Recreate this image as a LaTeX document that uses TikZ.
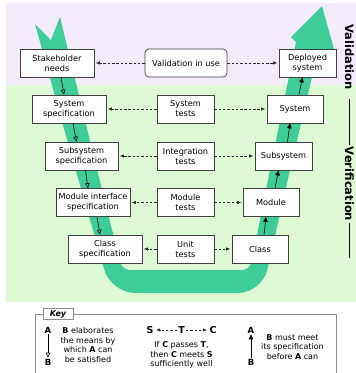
\documentclass[tikz,border=0pt]{standalone}
\usepackage{fontspec}
\setmainfont{DejaVu Sans}
\usetikzlibrary{arrows.meta}
\definecolor{lilac}{RGB}{243,234,250}
\definecolor{mint}{RGB}{222,250,212}
\definecolor{vband}{RGB}{62,204,152}

\begin{document}
\begin{tikzpicture}[x=1pt, y=-1pt,
	box/.style={draw=black!75, line width=0.7pt, fill=white, align=center, inner sep=1pt, minimum height=28pt, font=\fontsize{8.2}{10}\selectfont},
	test/.style={draw=black!85, line width=0.6pt, dash pattern=on 2.5pt off 1.8pt, -{Latex[length=4pt,width=3.5pt]}, shorten >=1.5pt},
	elab/.style={draw=black, line width=0.6pt, -{Triangle[open,length=5pt,width=4.5pt]}},
	meet/.style={draw=black, line width=0.6pt, -{Triangle[length=5pt,width=4.5pt]}},
	keytext/.style={align=center, inner sep=0pt, font=\fontsize{8}{9.5}\selectfont},
	keyletter/.style={inner sep=1pt, font=\bfseries\fontsize{8.5}{9}\selectfont},
	side/.style={rotate=-90, inner sep=2pt, font=\bfseries\fontsize{11.5}{12}\selectfont}]

	\useasboundingbox (0,0) rectangle (356,373);

	%background
	\fill[lilac] (6,3) rectangle (356,85);
	\fill[mint] (6,85) rectangle (356,302);

	%v shape
	\fill[vband] (35,24) -- (51,40) -- (60,17) -- (90,141)
		[rounded corners=8pt] -- (122,270) -- (250,270) -- (271,165)
		[sharp corners] -- (296,42) -- (291,37) -- (322,6) -- (334,49) -- (318,52) -- (290,170)
		[rounded corners=24pt] -- (262,293) -- (111,293) -- (70,150)
		[sharp corners] -- cycle;

	%nodes
	\node[box, minimum width=74pt] (need) at (57,63) {Stakeholder\\needs};
	\node[box, minimum width=82pt, rounded corners=4pt] (valid) at (186,63) {Validation in use};
	\node[box, minimum width=57pt] (deploy) at (307.5,63) {Deployed\\system};

	\node[box, minimum width=74pt] (sysspec) at (69,109) {System\\specification};
	\node[box, minimum width=57pt] (systest) at (185.5,109) {System\\tests};
	\node[box, minimum width=56pt] (system) at (295,109) {System};

	\node[box, minimum width=73pt] (subspec) at (81.5,156) {Subsystem\\specification};
	\node[box, minimum width=57pt] (inttest) at (185.5,156) {Integration\\tests};
	\node[box, minimum width=57pt] (subsys) at (283.5,156) {Subsystem};

	\node[box, minimum width=74pt] (modspec) at (93,202.5) {Module interface\\specification};
	\node[box, minimum width=57pt] (modtest) at (185.5,202.5) {Module\\tests};
	\node[box, minimum width=56pt] (module) at (271,202.5) {Module};

	\node[box, minimum width=74pt] (clsspec) at (105,249) {Class\\specification};
	\node[box, minimum width=57pt] (unittest) at (185.5,249) {Unit\\tests};
	\node[box, minimum width=56pt] (class) at (260,249) {Class};

	%paths
	\foreach \t/\s/\r in {valid/need/deploy, systest/sysspec/system, inttest/subspec/subsys, modtest/modspec/module, unittest/clsspec/class}{
		\draw[test] (\t) -- (\s);
		\draw[test] (\t) -- (\r);
	}
	\foreach \a/\b in {need/sysspec, sysspec/subspec, subspec/modspec, modspec/clsspec}
		\draw[elab] ([xshift=4pt]\a.south) -- ([xshift=-5pt]\b.north);
	\foreach \a/\b in {class/module, module/subsys, subsys/system, system/deploy}
		\draw[meet] ([xshift=4pt]\a.north) -- ([xshift=-5pt]\b.south);

	%side labels
	\node[side] (valab) at (349.5,57) {Validation};
	\node[side] (verlab) at (349.5,184) {Verification};
	\draw[line width=0.8pt] (verlab.west) -- ++(0,-46);
	\draw[line width=0.8pt] (verlab.east) -- ++(0,35);

	%key
	\draw[black!45, line width=0.7pt] (35,374) -- (35,314) -- (336,314) -- (336,374);
	\node[draw=black!45, line width=0.7pt, fill=white, inner sep=1.5pt, minimum width=30pt, font=\bfseries\itshape\fontsize{8}{9}\selectfont] (key) at (58,314) {Key};

	\node[keyletter] (ka) at (48,330) {A};
	\node[keyletter] (kb) at (48,362) {B};
	\draw[elab] (ka) -- (kb);
	\node[keytext] (ktext) at (88,345) {\textbf{B} elaborates\\the means by\\which \textbf{A} can\\be satisfied};

	\node[keyletter, font=\bfseries\fontsize{9.5}{9}\selectfont] (ks) at (150,330) {S};
	\node[keyletter, font=\bfseries\fontsize{9.5}{9}\selectfont] (kt) at (181.5,330) {T};
	\node[keyletter, font=\bfseries\fontsize{9.5}{9}\selectfont] (kc) at (213,330) {C};
	\draw[test] (kt) -- (ks);
	\draw[test] (kt) -- (kc);
	\node[keytext] (ttext) at (181.5,355) {If \textbf{C} passes \textbf{T},\\then \textbf{C} meets \textbf{S}\\sufficiently well};

	\node[keyletter] (ma) at (251,330) {A};
	\node[keyletter] (mb) at (251,362) {B};
	\draw[meet] (mb) -- (ma);
	\node[keytext] (mtext) at (292.5,347) {\textbf{B} must meet\\its specification\\before \textbf{A} can};

\end{tikzpicture}
\end{document}
